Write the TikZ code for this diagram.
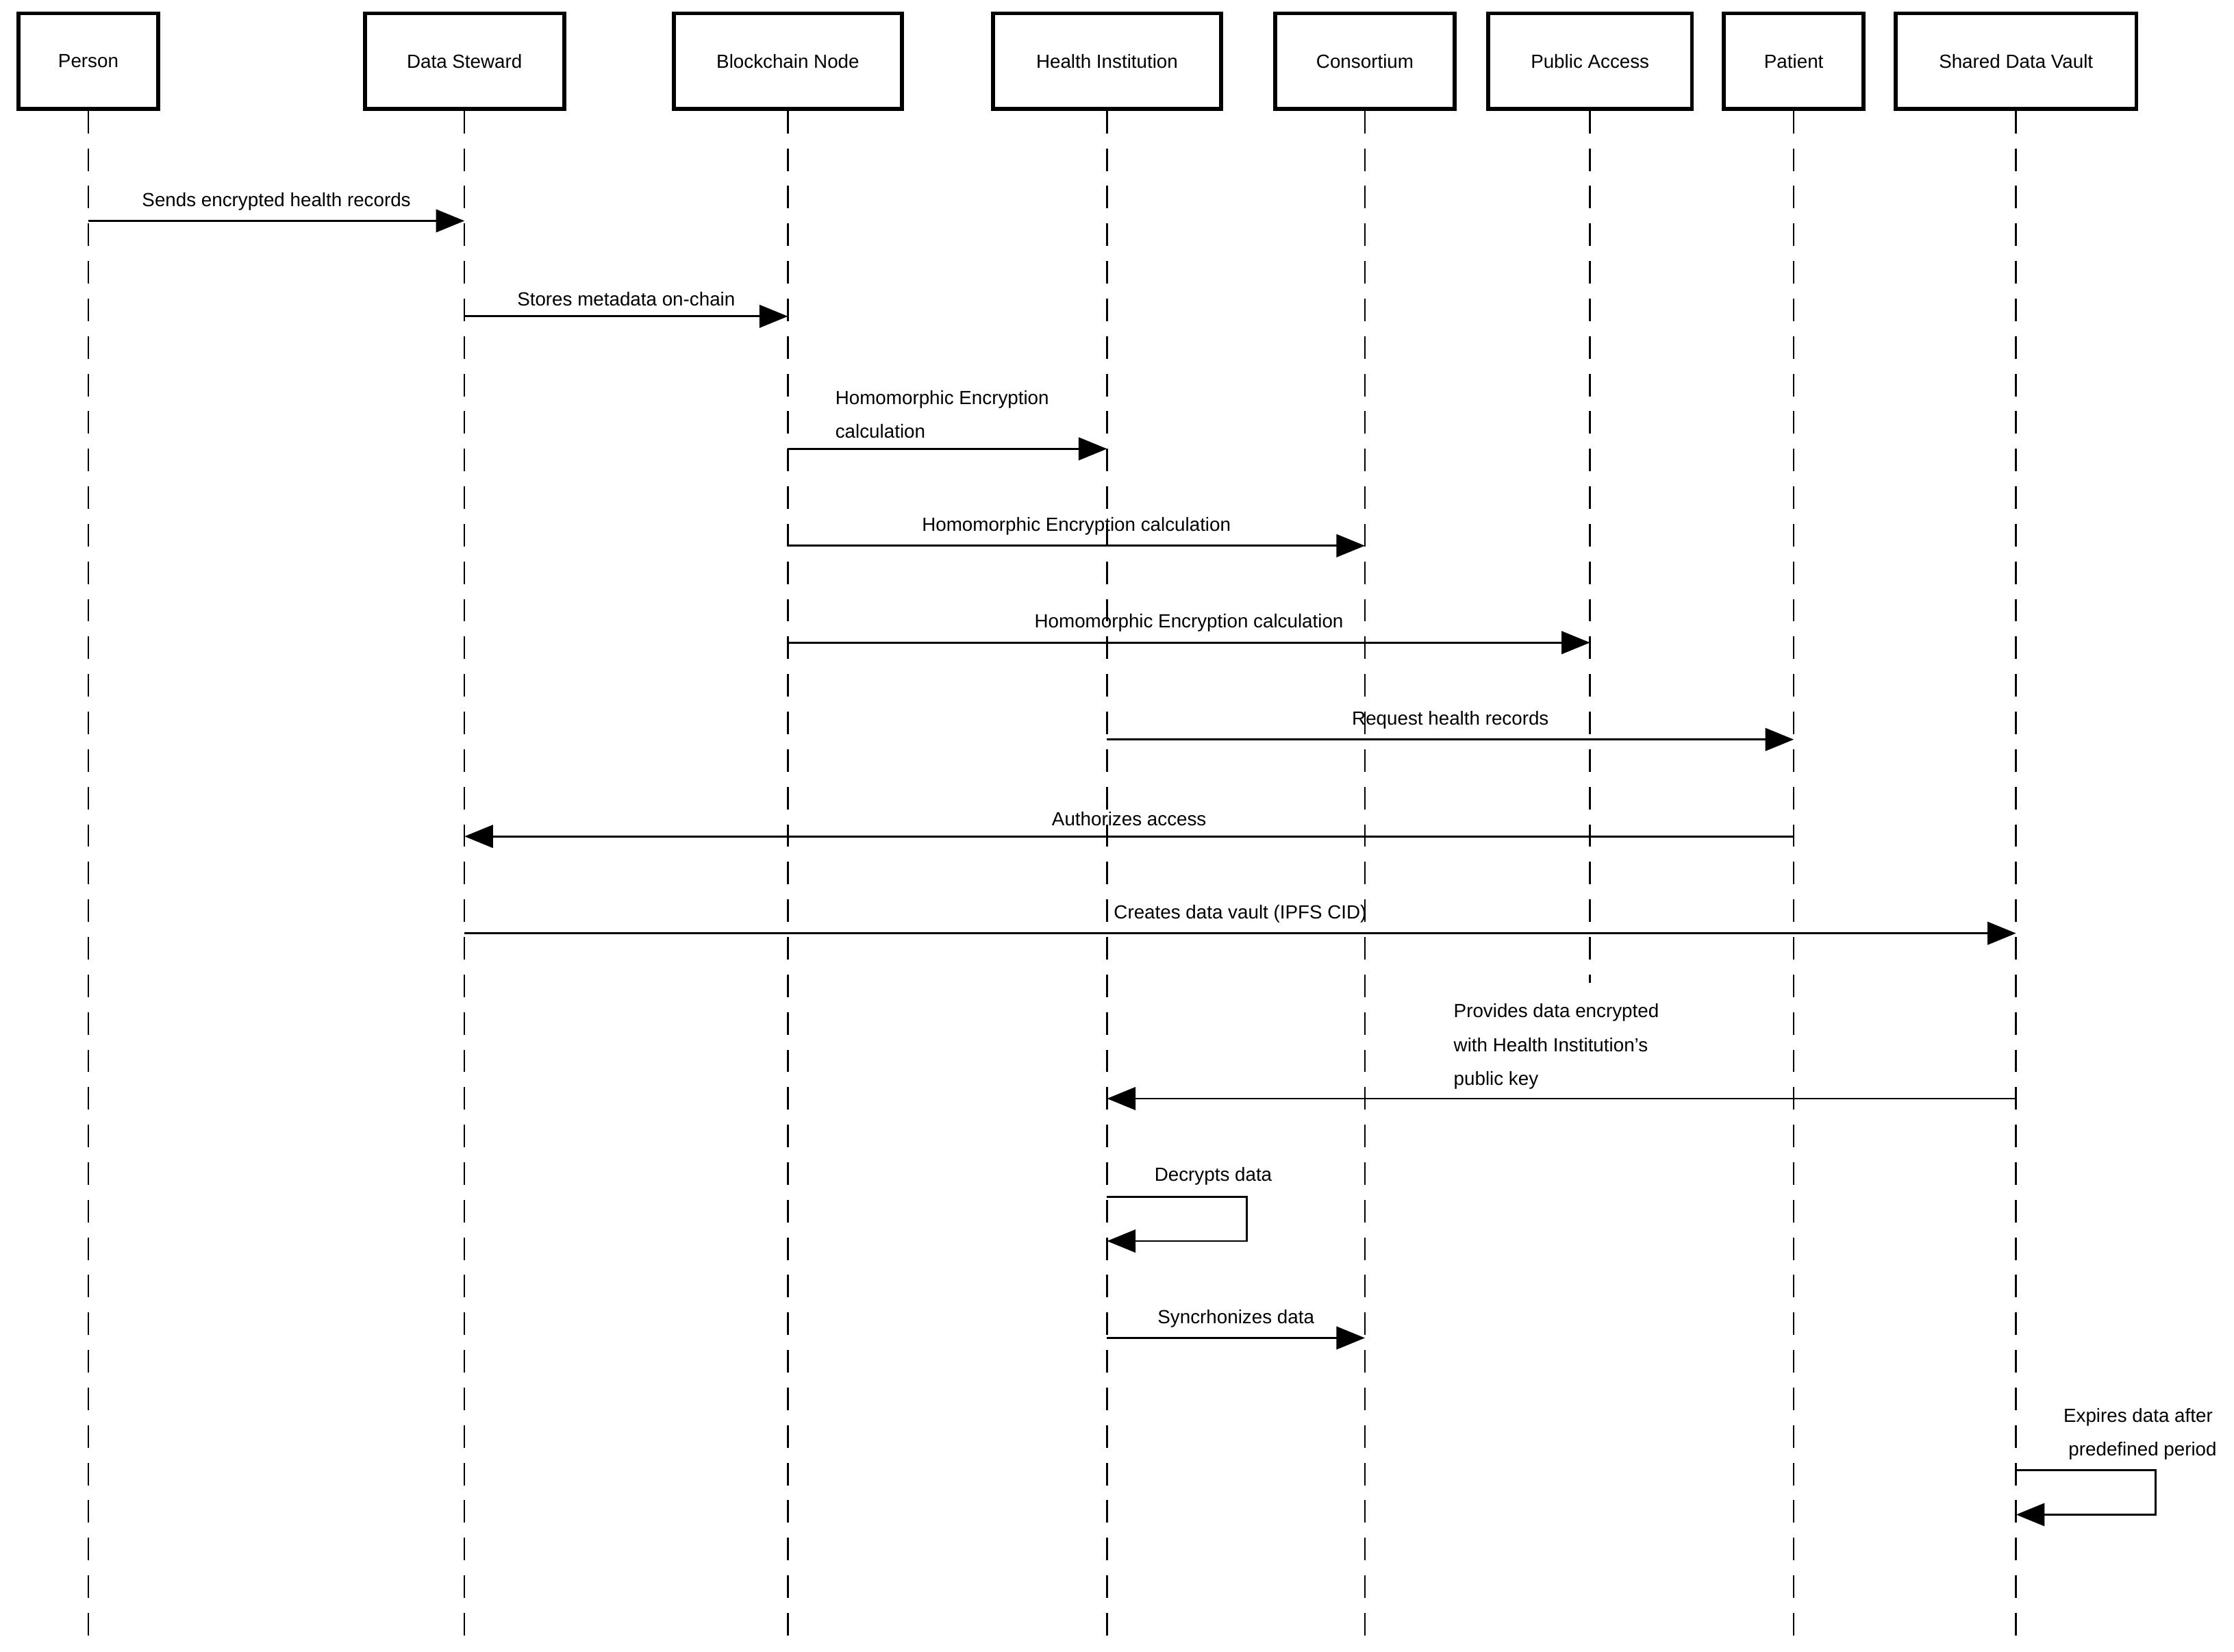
\documentclass[tikz,border=0pt]{standalone}
\usepackage{fontspec}
\setmainfont{Liberation Sans}
\usetikzlibrary{arrows.meta,positioning}

\begin{document}
\begin{tikzpicture}[
    x=0.02cm, y=-0.02cm,
    font=\fontsize{7.6}{13.6}\selectfont,
    actor/.style={
        rectangle,
        draw=black,
        line width=1.6pt,
        minimum height=1.34cm,
        inner sep=0pt,
        anchor=north
    },
    life/.style={dashed, dash pattern=on 9pt off 6pt, line width=0.7pt},
    msg/.style={-{Triangle[length=4mm,width=3.2mm]}, line width=0.8pt},
    lbl/.style={above=1mm, inner sep=1pt},
    note/.style={align=left, anchor=south west, inner sep=0pt}
]
\useasboundingbox (0,0) rectangle (1568,1159);

% ===== Actors =====
\node[actor, minimum width=1.96cm] (person)  at (62,8)   {Person};
\node[actor, minimum width=2.80cm] (steward) at (326,8)  {Data Steward};
\node[actor, minimum width=3.20cm] (chain)   at (553,8)  {Blockchain Node};
\node[actor, minimum width=3.20cm] (health)  at (777,8)  {Health Institution};
\node[actor, minimum width=2.52cm] (consort) at (958,8)  {Consortium};
\node[actor, minimum width=2.86cm] (public)  at (1116,8) {Public Access};
\node[actor, minimum width=1.96cm] (patient) at (1259,8) {Patient};
\node[actor, minimum width=3.38cm] (vault)   at (1415,8) {Shared Data Vault};

% ===== Lifelines =====
\coordinate (bottom) at (0,1148);
\coordinate (pubend) at (0,690);
\foreach \a in {person,steward,chain,health,consort,patient,vault}
    \draw[life] (\a.south) -- (\a |- bottom);
\draw[life] (public.south) -- (public |- pubend);

% ===== Message rows =====
\foreach \n/\y in {1/155,2/222,3/315,4/383,5/451,6/519,7/587,8/655,9/771,
                   10/840,11/871,12/939,13/1032,14/1063}
    \coordinate (r\n) at (0,\y);
\coordinate (selfa) at (875,0);
\coordinate (selfb) at (1513,0);

\draw[msg] (person |- r1) -- node[lbl]{Sends encrypted health records} (steward |- r1);
\draw[msg] (steward |- r2) -- node[lbl]{Stores metadata on-chain} (chain |- r2);
\draw[msg] (chain |- r3) -- (health |- r3);
\node[note] (n3) at (586,308) {Homomorphic Encryption\\calculation};
\draw[msg] (chain |- r4) -- node[lbl]{Homomorphic Encryption calculation} (consort |- r4);
\draw[msg] (chain |- r5) -- node[lbl]{Homomorphic Encryption calculation} (public |- r5);
\draw[msg] (health |- r6) -- node[lbl]{Request health records} (patient |- r6);
\draw[msg] (patient |- r7) -- node[lbl]{Authorizes access} (steward |- r7);
\draw[msg] (steward |- r8) -- node[lbl]{Creates data vault (IPFS CID)} (vault |- r8);
\draw[msg] (vault |- r9) -- (health |- r9);
\node[note] (n9) at (1020,765) {Provides data encrypted\\with Health Institution's\\public key};

\draw[msg] (health |- r10) -- (selfa |- r10) -- (selfa |- r11) -- (health |- r11);
\node[note] (n10) at (810,832) {Decrypts data};
\draw[msg] (health |- r12) -- node[lbl]{Syncrhonizes data} (consort |- r12);
\draw[msg] (vault |- r13) -- (selfb |- r13) -- (selfb |- r14) -- (vault |- r14);
\node[note] (n13) at (1448,1025) {Expires data after\\\hspace{2pt}predefined period};
\end{tikzpicture}
\end{document}
